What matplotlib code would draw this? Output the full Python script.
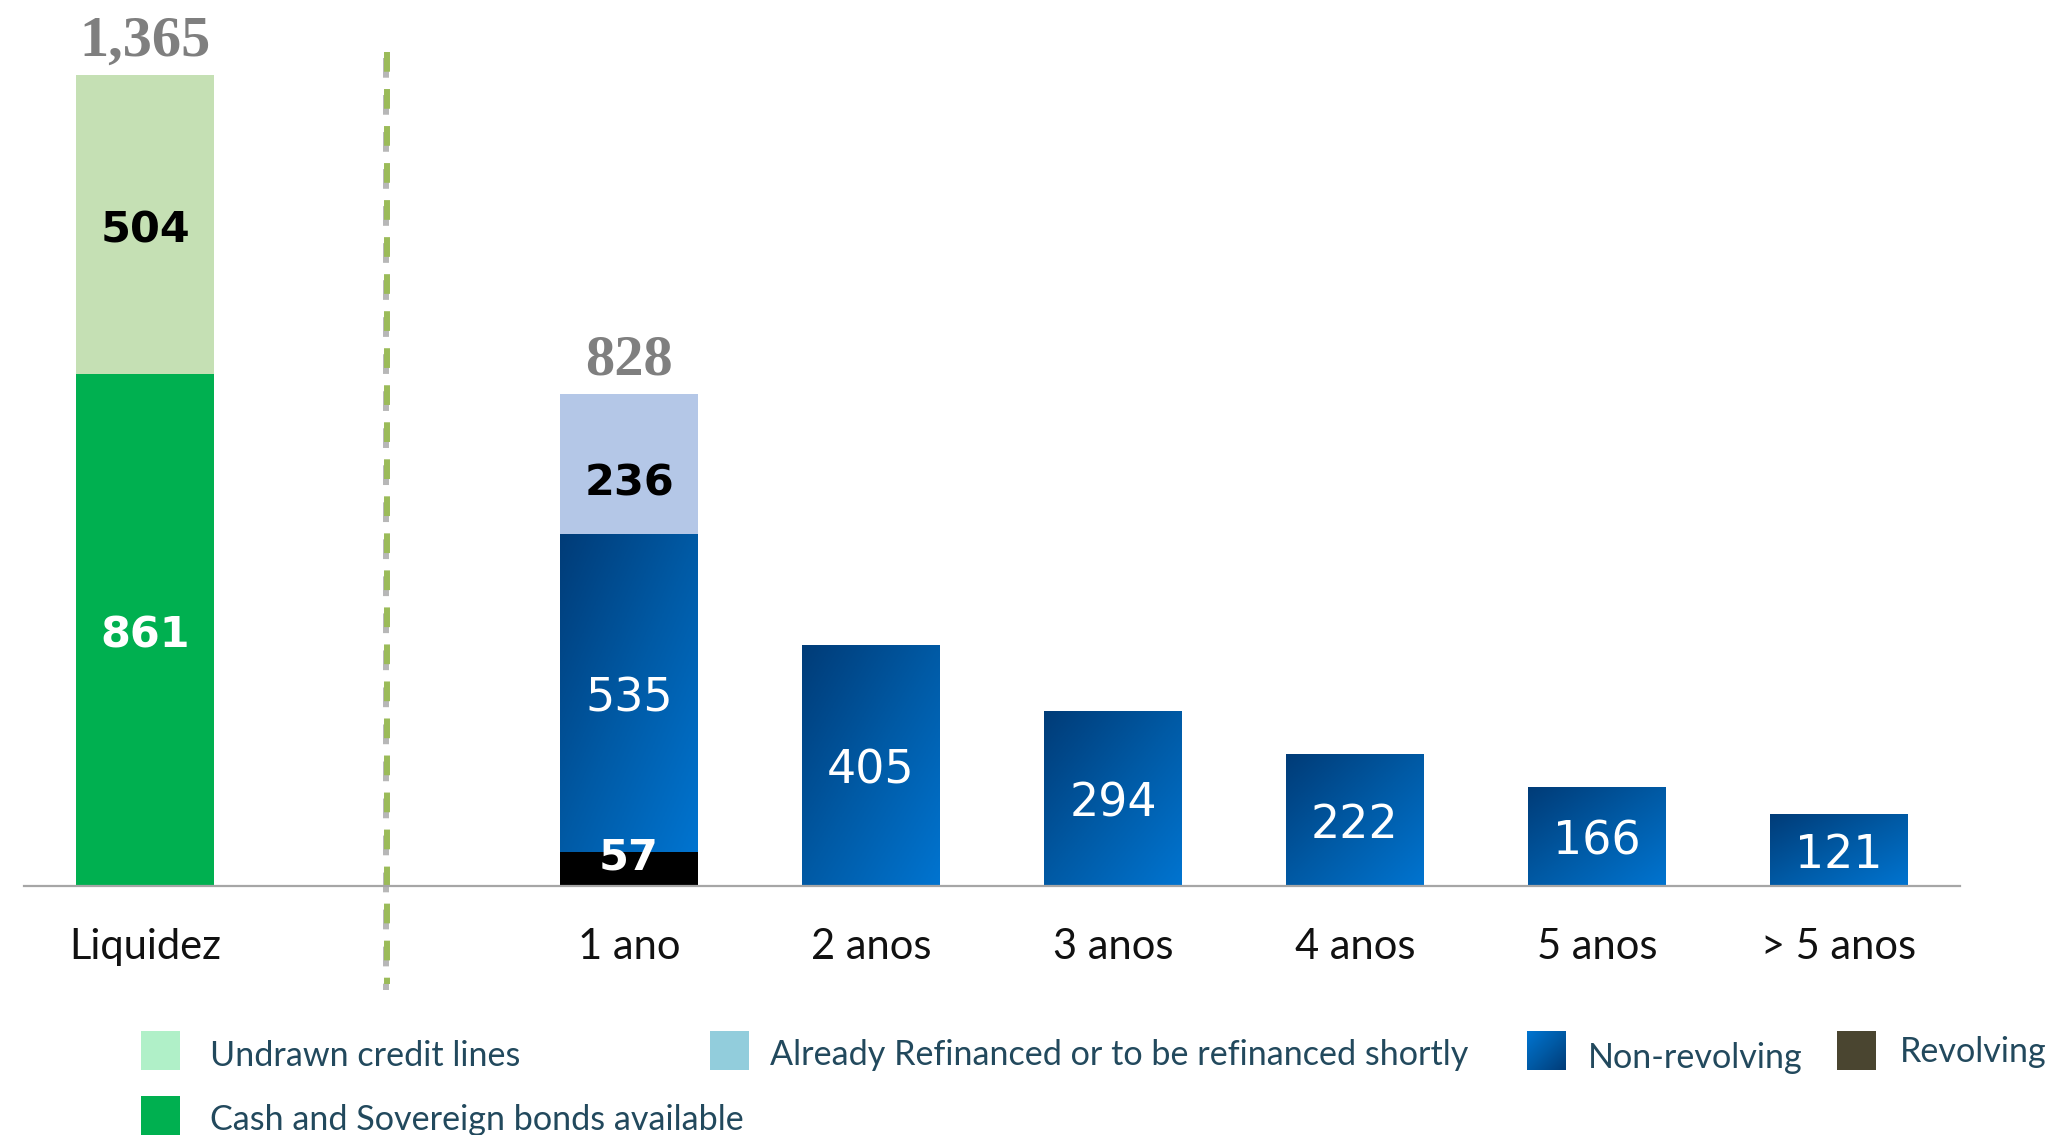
import numpy as np
import matplotlib
matplotlib.use('Agg')
import matplotlib.pyplot as plt
from matplotlib.colors import LinearSegmentedColormap
from matplotlib.patches import Rectangle
import matplotlib.patheffects as pe

W, H = 2054, 1135

# dados
liquidity_label = 'Liquidez'
cash_bonds = 861
undrawn_lines = 504

maturity_labels = ['1 ano', '2 anos', '3 anos', '4 anos', '5 anos', '> 5 anos']
revolving = [57, 0, 0, 0, 0, 0]
non_revolving = [535, 405, 294, 222, 166, 121]
refinanced = [236, 0, 0, 0, 0, 0]

legend_labels = ['Undrawn credit lines', 'Cash and Sovereign bonds available',
                 'Already Refinanced or to be refinanced shortly', 'Non-revolving', 'Revolving']

c_undrawn = '#c5e0b4'
c_cash = '#00b050'
c_refin = '#b4c7e7'
c_revolving = '#000000'
blue_cmap = LinearSegmentedColormap.from_list('blue', ['#003c78', '#005aa5', '#0074d0'])
grey_total = '#7f7f7f'
legend_color = '#22495d'

fig = plt.figure(figsize=(W / 100, H / 100), dpi=100)
base_px = 886
ax = fig.add_axes([24 / W, 1 - base_px / H, (1960 - 24) / W, base_px / H])
px_per_unit = 811 / 1365
ymax = base_px / px_per_unit


def gradient_fill(ax, patch, cmap):
    x0, y0 = patch.get_x(), patch.get_y()
    w, h = patch.get_width(), patch.get_height()
    u = np.linspace(0, 1, 80)
    g = (u[None, :] + u[:, None]) / 2
    ax.imshow(g, cmap=cmap, extent=(x0, x0 + w, y0, y0 + h), origin='upper',
              aspect='auto', zorder=patch.get_zorder() + 0.1)


def bar_label(ax, xv, yv, txt, color, bold, dy=0):
    ax.annotate(txt, (xv, yv), xytext=(0, -4 + dy), textcoords='offset points',
                ha='center', va='center', family='DejaVu Sans', color=color,
                fontsize=31 if bold else 33, fontweight='bold' if bold else 'normal', zorder=5)


def total_label(ax, xv, yv, tot):
    ax.annotate(f'{tot:,}', (xv, yv), xytext=(0, 24), textcoords='offset points',
                ha='center', va='center', color=grey_total, fontsize=42, fontweight='bold',
                family='Liberation Serif', annotation_clip=False)


bar_w = 0.57
# barra de liquidez
ax.bar(0, cash_bonds, width=bar_w, color=c_cash, zorder=2)
ax.bar(0, undrawn_lines, bottom=cash_bonds, width=bar_w, color=c_undrawn, zorder=2)

x = np.arange(2, 2 + len(maturity_labels))
rev = np.array(revolving)
nonrev = np.array(non_revolving)
refin = np.array(refinanced)
ax.bar(x, rev, width=bar_w, color=c_revolving, zorder=2)
nr_bars = ax.bar(x, nonrev, bottom=rev, width=bar_w, color='#005aa5', zorder=2)
for p in nr_bars:
    gradient_fill(ax, p, blue_cmap)
ax.bar(x, refin, bottom=rev + nonrev, width=bar_w, color=c_refin, zorder=2)

# rótulos liquidez
bar_label(ax, 0, cash_bonds / 2, f'{cash_bonds}', 'white', True)
bar_label(ax, 0, cash_bonds + undrawn_lines / 2, f'{undrawn_lines}', 'black', True)
total_label(ax, 0, cash_bonds + undrawn_lines, cash_bonds + undrawn_lines)

for i, xi in enumerate(x):
    if rev[i] > 0:
        bar_label(ax, xi, rev[i], f'{rev[i]}', 'white', True)
    bar_label(ax, xi, rev[i] + nonrev[i] / 2, f'{nonrev[i]}', 'white', False)
    if refin[i] > 0:
        bar_label(ax, xi, rev[i] + nonrev[i] + refin[i] / 2, f'{refin[i]}', 'black', True, dy=-10)
    if rev[i] > 0 or refin[i] > 0:
        total_label(ax, xi, rev[i] + nonrev[i] + refin[i], rev[i] + nonrev[i] + refin[i])

# linha separadora tracejada
sep_top = (base_px - 52) / px_per_unit
sep_bot = (base_px - 984) / px_per_unit
ax.plot([1, 1], [sep_top, sep_bot], color='#9bbb59', lw=4.3, linestyle=(0, (3.3, 2.9)),
        clip_on=False, zorder=3,
        path_effects=[pe.SimpleLineShadow(offset=(-0.8, -4), shadow_color='#707070', alpha=0.5),
                      pe.Normal()])

ax.set_xlim(-0.5, 7.5)
ax.set_ylim(0, ymax)
ax.set_xticks([0] + list(x))
ax.set_xticklabels([liquidity_label] + maturity_labels, family='Lato', fontsize=30, color='#111111')
ax.tick_params(axis='x', length=0, pad=30)
ax.set_yticks([])
for s in ['left', 'right', 'top']:
    ax.spines[s].set_visible(False)
ax.spines['bottom'].set_color('#a6a6a6')
ax.spines['bottom'].set_linewidth(1.6)
ax.spines['bottom'].set_zorder(4)


# legenda manual
def fx(v):
    return v / W


def fy(v):
    return 1 - v / H


patch_sz = 39
leg_pos = [
    (141, 1031, 210, 1056, '#b0f0c8'),
    (141, 1096, 210, 1120, c_cash),
    (710, 1031, 770, 1055, '#92cddc'),
    (1527, 1031, 1588, 1058, None),
    (1837, 1031, 1900, 1052, '#4a4530'),
]
for label, (px0, py0, tx, ty, col) in zip(legend_labels, leg_pos):
    if col is None:
        lax = fig.add_axes([fx(px0), fy(py0 + patch_sz), fx(patch_sz), patch_sz / H])
        u = np.linspace(0, 1, 40)
        g = 1 - (u[None, :] + u[:, None]) / 2
        lax.imshow(g, cmap=blue_cmap, aspect='auto', origin='upper')
        lax.axis('off')
    else:
        fig.patches.append(Rectangle((fx(px0), fy(py0 + patch_sz)), fx(patch_sz), patch_sz / H,
                                     transform=fig.transFigure, facecolor=col, edgecolor='none',
                                     figure=fig))
    fig.text(fx(tx), fy(ty), label, family='Lato', fontsize=24.6, color=legend_color,
             ha='left', va='center')

fig.savefig('out.png', dpi=100, facecolor='white')
